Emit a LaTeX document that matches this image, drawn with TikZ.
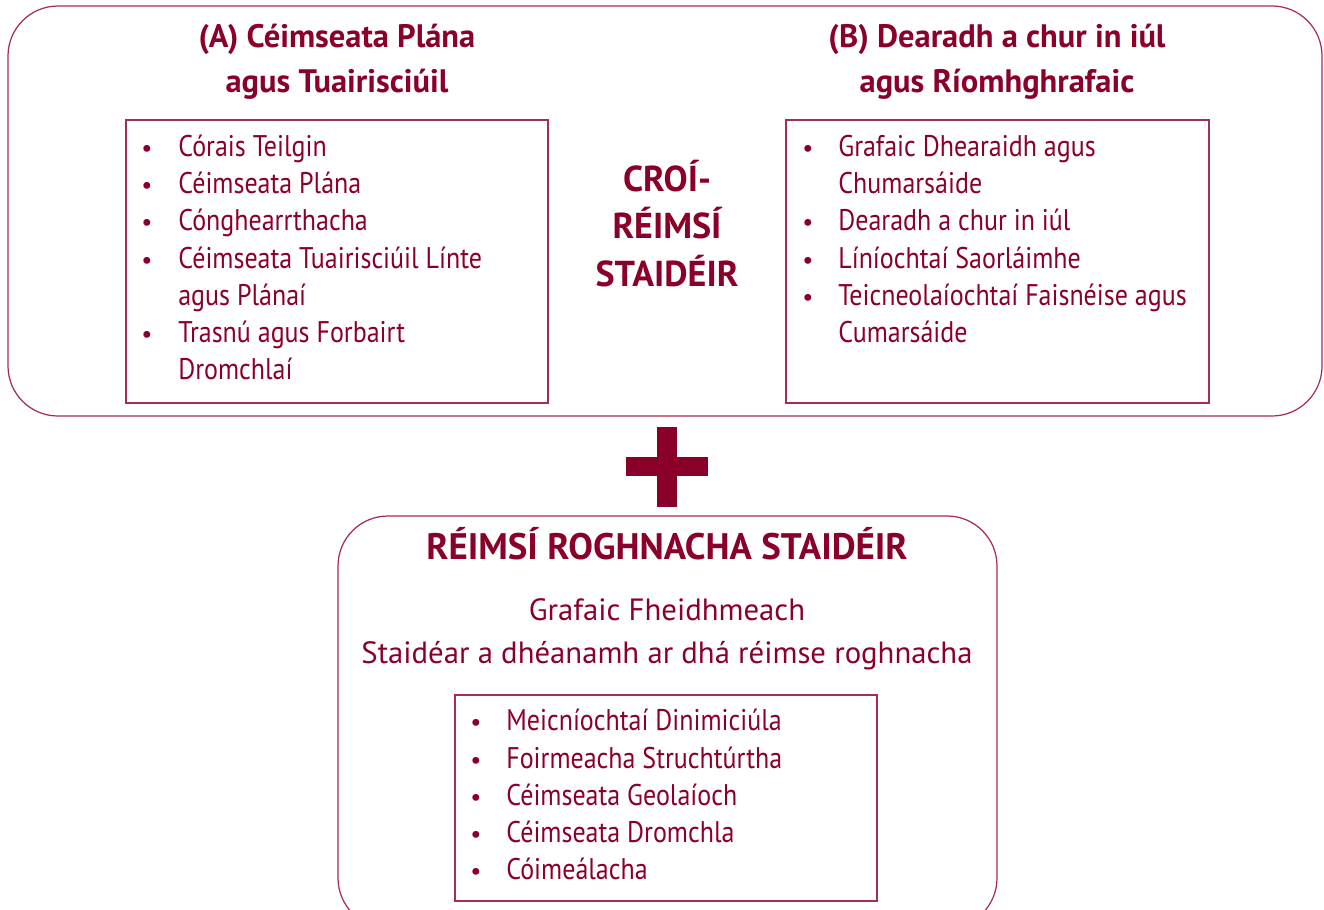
\documentclass[tikz,border=0pt]{standalone}
\usepackage{fontspec}
\setmainfont{PT Sans}
\newfontfamily\thinfont[FakeStretch=0.87]{PT Sans}
\usepackage{xcolor}
\definecolor{maroon}{RGB}{139,0,40}
\definecolor{edge}{RGB}{165,45,80}

\begin{document}
\begin{tikzpicture}[x=0.02cm, y={(0cm,-0.02cm)},
    frame/.style = {draw=edge, line width=0.7pt, rounded corners=1cm},
    box/.style = {draw=edge, line width=0.6pt},
    head/.style = {text=maroon, anchor=base, inner sep=0, font=\fontsize{18.5}{21}\selectfont\bfseries},
    core/.style = {text=maroon, anchor=base, inner sep=0, font=\fontsize{20.5}{24}\selectfont\bfseries},
    item/.style = {text=maroon, anchor=base west, inner sep=0, font=\thinfont\fontsize{17}{21}\selectfont},
    dot/.style = {text=maroon, anchor=base, inner sep=0, font=\fontsize{14}{16}\selectfont}]
        \useasboundingbox (0,0) rectangle (1324,909);

        % core areas
        \draw[frame] (8,6) rectangle (1322,416);
        \node[head] (titleA1) at (337,48) {(A) Céimseata Plána};
        \node[head] (titleA2) at (337,92) {agus Tuairisciúil};
        \node[head] (titleB1) at (997,48) {(B) Dearadh a chur in iúl};
        \node[head] (titleB2) at (997,92) {agus Ríomhghrafaic};
        \node[core] (core1) at (667,191) {CROÍ-};
        \node[core] (core2) at (667,238) {RÉIMSÍ};
        \node[core] (core3) at (667,286) {STAIDÉIR};

        \draw[box] (126,120) rectangle (548,403);
        \foreach \y [count=\i] in {156,193,230,268,342}
            \node[dot] (da\i) at (147,\y) {\textbullet};
        \node[item] (a1) at (178,156) {Córais Teilgin};
        \node[item] (a2) at (178,193) {Céimseata Plána};
        \node[item] (a3) at (178,230) {Cónghearrthacha};
        \node[item] (a4) at (178,268) {Céimseata Tuairisciúil Línte};
        \node[item] (a5) at (178,305) {agus Plánaí};
        \node[item] (a6) at (178,342) {Trasnú agus Forbairt};
        \node[item] (a7) at (178,379) {Dromchlaí};

        \draw[box] (786,120) rectangle (1209,403);
        \foreach \y [count=\i] in {156,230,268,305}
            \node[dot] (db\i) at (808,\y) {\textbullet};
        \node[item] (b1) at (838,156) {Grafaic Dhearaidh agus};
        \node[item] (b2) at (838,193) {Chumarsáide};
        \node[item] (b3) at (838,230) {Dearadh a chur in iúl};
        \node[item] (b4) at (838,268) {Líníochtaí Saorláimhe};
        \node[item] (b5) at (838,305) {Teicneolaíochtaí Faisnéise agus};
        \node[item] (b6) at (838,342) {Cumarsáide};

        % plus sign
        \fill[maroon] (657,427) rectangle (677,507);
        \fill[maroon] (626,457) rectangle (708,476);

        % optional areas
        \draw[frame] (338,516) rectangle (997,928);
        \node[head, font=\fontsize{21}{24}\selectfont\bfseries] (optTitle) at (667,559) {RÉIMSÍ ROGHNACHA STAIDÉIR};
        \node[head, font=\fontsize{17.5}{21}\selectfont] (opt1) at (667,620) {Grafaic Fheidhmeach};
        \node[head, font=\fontsize{17.5}{21}\selectfont] (opt2) at (667,663) {Staidéar a dhéanamh ar dhá réimse roghnacha};

        \draw[box] (455,695) rectangle (877,901);
        \foreach \y [count=\i] in {730,768,805,842,879}
            \node[dot] (dc\i) at (476,\y) {\textbullet};
        \node[item] (c1) at (506,730) {Meicníochtaí Dinimiciúla};
        \node[item] (c2) at (506,768) {Foirmeacha Struchtúrtha};
        \node[item] (c3) at (506,805) {Céimseata Geolaíoch};
        \node[item] (c4) at (506,842) {Céimseata Dromchla};
        \node[item] (c5) at (506,879) {Cóimeálacha};

    \end{tikzpicture}
\end{document}
